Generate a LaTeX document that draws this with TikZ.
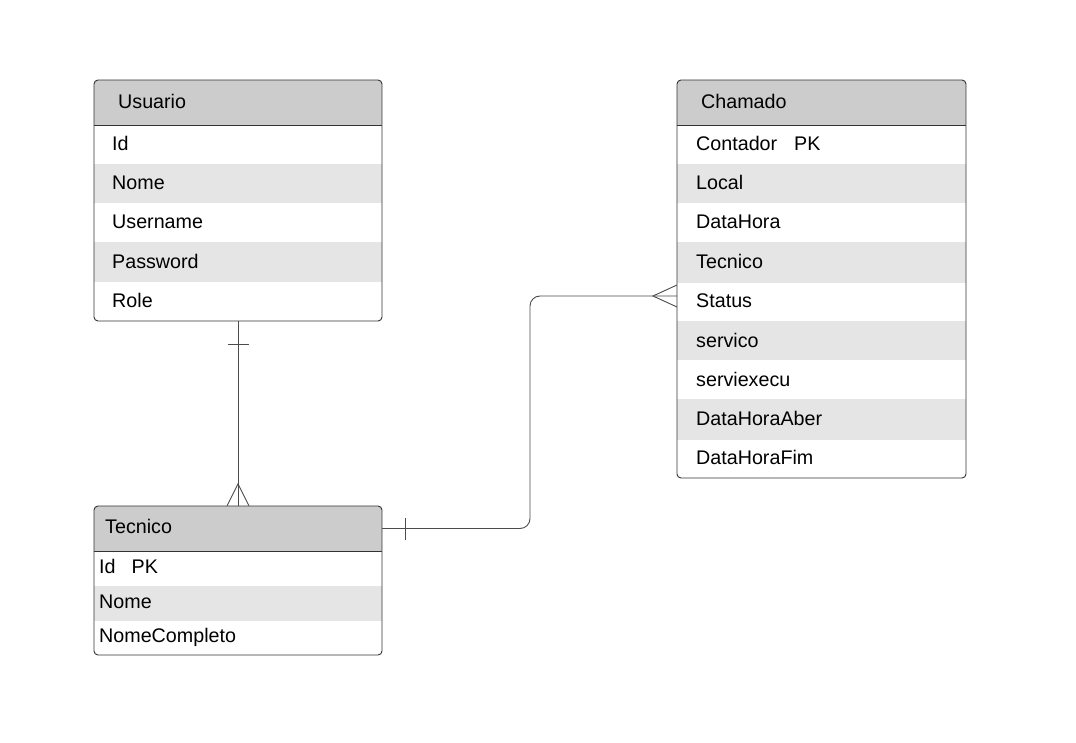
\documentclass[tikz,border=0pt]{standalone}
\usepackage{fontspec}
\setmainfont{Liberation Sans}
\begin{document}
\begin{tikzpicture}[x=1pt,y=-1pt,
  headfill/.style={fill=black!20},
  rowfill/.style={fill=black!10},
  boxline/.style={draw=black!80,line width=0.9pt,rounded corners=4pt},
  conn/.style={draw=black!70,line width=0.9pt},
  lbl/.style={anchor=west,inner sep=0pt,text height=15pt,text depth=2pt,font=\fontsize{19.7}{23}\selectfont},
  ent/.style={draw=none,inner sep=0pt,minimum width=288pt}
]
\useasboundingbox (0,0) rectangle (1076,743);
\fill[white] (0,0) rectangle (1076,743);

% ---------- Usuario ----------
\node[ent,minimum height=241pt] (usuario) at (238,200.5) {};
\node[ent,minimum height=45pt] (usuarioH) at (238,102.5) {};
\begin{scope}
\clip[rounded corners=4pt] (94,80) rectangle (382,321);
\fill[headfill] (94,80) rectangle (382,125);
\fill[rowfill] (94,164.3) rectangle (382,203.5);
\fill[rowfill] (94,242.5) rectangle (382,282);
\end{scope}
\draw[boxline] (94,80) rectangle (382,321);
\draw[black!80,line width=0.9pt] (94,125) -- (382,125);
\node[lbl] (uT) at (118,102.5) {Usuario};
\node[lbl] (u1) at (112,144.5) {Id};
\node[lbl] (u2) at (112,183.5) {Nome};
\node[lbl] (u3) at (112,222.5) {Username};
\node[lbl] (u4) at (112,262) {Password};
\node[lbl] (u5) at (112,301.5) {Role};

% ---------- Tecnico ----------
\node[ent,minimum height=149pt] (tecnico) at (238,580.5) {};
\node[ent,minimum height=45pt] (tecnicoH) at (238,528.5) {};
\begin{scope}
\clip[rounded corners=4pt] (94,506) rectangle (382,655);
\fill[headfill] (94,506) rectangle (382,551);
\fill[rowfill] (94,586) rectangle (382,621);
\end{scope}
\draw[boxline] (94,506) rectangle (382,655);
\draw[black!80,line width=0.9pt] (94,551) -- (382,551);
\node[lbl] (tT) at (105,527) {Tecnico};
\node[lbl] (t1) at (99,567) {Id\hspace{16pt}PK};
\node[lbl] (t2) at (99,601.5) {Nome};
\node[lbl] (t3) at (99,636) {NomeCompleto};

% ---------- Chamado ----------
\node[ent,minimum width=289pt,minimum height=398pt] (chamado) at (821.5,279) {};
\begin{scope}
\clip[rounded corners=4pt] (677,80) rectangle (966,478);
\fill[headfill] (677,80) rectangle (966,125);
\fill[rowfill] (677,164.3) rectangle (966,203.5);
\fill[rowfill] (677,242.5) rectangle (966,282.7);
\fill[rowfill] (677,320.7) rectangle (966,360);
\fill[rowfill] (677,399) rectangle (966,440);
\end{scope}
\draw[boxline] (677,80) rectangle (966,478);
\draw[black!80,line width=0.9pt] (677,125) -- (966,125);
\node[lbl] (cT) at (701,102.5) {Chamado};
\node[lbl] (c1) at (696,144.5) {Contador\hspace{17pt}PK};
\node[lbl] (c2) at (696,183.5) {Local};
\node[lbl] (c3) at (696,222.5) {DataHora};
\node[lbl] (c4) at (696,262) {Tecnico};
\node[lbl] (c5) at (696,301.5) {Status};
\node[lbl] (c6) at (696,340.5) {servico};
\node[lbl] (c7) at (696,379.5) {serviexecu};
\node[lbl] (c8) at (696,419) {DataHoraAber};
\node[lbl] (c9) at (696,458) {DataHoraFim};

% ---------- Connectors ----------
% Usuario (one) -- Tecnico (many)
\draw[conn] (usuario.south) -- (tecnico.north);
\draw[conn] ([xshift=-10.5pt,yshift=-23pt]usuario.south) -- ([xshift=10.5pt,yshift=-23pt]usuario.south);
\draw[conn] ([xshift=-11pt]tecnico.north) -- ([yshift=22pt]tecnico.north) -- ([xshift=11pt]tecnico.north);

% Tecnico (one) -- Chamado (many)
\coordinate (cin) at (677,296);
\draw[conn,rounded corners=10pt] (tecnicoH.east) -| (530,296) -- (cin);
\draw[conn] ([xshift=23pt,yshift=-11pt]tecnicoH.east) -- ([xshift=23pt,yshift=11pt]tecnicoH.east);
\draw[conn] ([yshift=-11pt]cin) -- ([xshift=-24pt]cin) -- ([yshift=11pt]cin);
\end{tikzpicture}
\end{document}
